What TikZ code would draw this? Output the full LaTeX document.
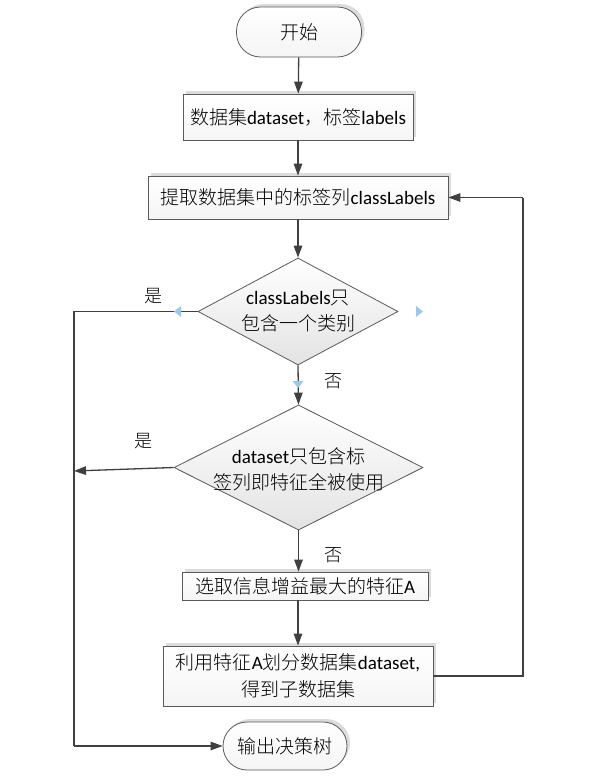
\documentclass[tikz,border=0pt]{standalone}
\usepackage{fontspec}
\setmainfont{Carlito}
\newfontfamily\cjk{Noto Sans CJK SC Light}
\newcommand\zhs[1]{{\cjk #1}}
\usetikzlibrary{arrows.meta,shapes.geometric,shadows}
\definecolor{lineC}{HTML}{404040}
\definecolor{borderC}{HTML}{5A5A5A}
\definecolor{hintC}{HTML}{9CC8EC}
\tikzset{
  boxbase/.style={draw=borderC, line width=0.8pt, top color=white, bottom color=gray!8,
    drop shadow={shadow xshift=3pt, shadow yshift=3pt, fill=gray!45, opacity=0.6},
    inner sep=0pt, align=center, font=\fontsize{19}{27}\selectfont},
  procbox/.style={boxbase, rectangle},
  termbox/.style={boxbase, rectangle, rounded corners=24pt},
  decbox/.style={diamond, draw=borderC, line width=0.8pt, top color=white, bottom color=gray!22, inner sep=0pt},
  txt/.style={align=center, inner sep=0pt, font=\fontsize{19}{26}\selectfont},
  lbl/.style={inner sep=0pt, font=\fontsize{18}{20}\selectfont},
  conn/.style={draw=lineC, line width=1.3pt, -{Triangle[length=12pt,width=8.5pt]}},
  plain/.style={draw=lineC, line width=1.3pt},
  hint/.style={fill=hintC, draw=none}
}
\begin{document}
\begin{tikzpicture}[x=1pt,y=-1pt]
\useasboundingbox (0,0) rectangle (593,779);
\fill[white] (0,0) rectangle (593,779);
% nodes
\node[termbox, minimum width=125pt, minimum height=50pt] (start) at (299,32) {\zhs{开始}};
\node[procbox, minimum width=230pt, minimum height=46pt] (r1) at (298,117) {\zhs{数据集}dataset\zhs{，标签}labels};
\node[procbox, minimum width=300pt, minimum height=43pt] (r2) at (298,197.5) {\zhs{提取数据集中的标签列}classLabels};
\node[decbox, minimum width=200pt, minimum height=107pt] (d1) at (298,311.5) {};
\node[txt] (d1t) at (298,311.5) {classLabels\zhs{只}\\\zhs{包含一个类别}};
\node[decbox, minimum width=249pt, minimum height=125pt] (d2) at (298.5,467.5) {};
\node[txt] (d2t) at (298.5,469) {dataset\zhs{只包含标}\\\zhs{签列即特征全被使用}};
\node[procbox, minimum width=246pt, minimum height=28pt] (r3) at (305,586) {\zhs{选取信息增益最大的特征}A};
\node[procbox, minimum width=270pt, minimum height=60pt] (r4) at (298,676) {\zhs{利用特征}A\zhs{划分数据集}dataset,\\\zhs{得到子数据集}};
\node[termbox, minimum width=124pt, minimum height=48pt] (out) at (285,746) {\zhs{输出决策树}};
% labels
\node[lbl] (yes1) at (153,296) {\zhs{是}};
\node[lbl] (yes2) at (143,441) {\zhs{是}};
\node[lbl] (no1) at (333,381) {\zhs{否}};
\node[lbl] (no2) at (333,555) {\zhs{否}};
% helper coordinates
\coordinate (lx1) at (74,311.5);
\coordinate (lx2) at (74,471);
\coordinate (lx3) at (74,746);
\coordinate (rx1) at (523,676);
\coordinate (rx2) at (523,197.5);
% connectors
\draw[conn] (start) -- (r1);
\draw[conn] (r1) -- (r2);
\draw[conn] (r2.south) -- (d1.north);
\draw[conn] (d1.south) -- (d2.north);
\draw[conn] (d2.south) -- (d2.south |- r3.north);
\draw[conn] (r3.south -| r4.north) -- (r4.north);
\draw[plain] (d1.west) -- (lx1) -- (lx3);
\draw[conn] (lx3) -- (out.west);
\draw[conn] (d2.west) -- (lx2);
\draw[plain] (r4.east) -- (rx1) -- (rx2);
\draw[conn] (rx2) -- (r2.east);
% connection hints
\fill[hint] (174,311.5) -- (181,306) -- (181,317) -- cycle;
\fill[hint] (423,311.5) -- (416,306) -- (416,317) -- cycle;
\fill[hint] (298,388) -- (292.5,381) -- (303.5,381) -- cycle;
\end{tikzpicture}
\end{document}
